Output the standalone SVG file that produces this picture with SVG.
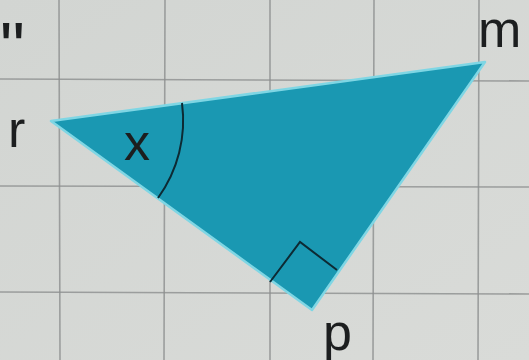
<svg xmlns="http://www.w3.org/2000/svg" width="529" height="360" viewBox="0 0 529 360">
<style>
.grid{stroke:#8c8f8e;stroke-width:1.6;fill:none;opacity:0.8}
.lbl{font-family:"Liberation Sans",Arial,sans-serif;fill:#1c1e1f}
.mark{stroke:#0d2a33;stroke-width:2;fill:none}
</style>
<defs>
<linearGradient id="paper" x1="0" y1="0" x2="1" y2="1">
<stop offset="0" stop-color="#d2d5d2"/>
<stop offset="1" stop-color="#d9dbd8"/>
</linearGradient>
</defs>
<rect width="529" height="360" fill="url(#paper)"/>
<g id="grid">
<path class="grid" d="M59 0 L60 360 M165 0 L164 360 M270 0 L270 360 M374 0 L373 360 M479 0 L478 360"/>
<path class="grid" d="M0 79 L529 81 M0 186 L529 187 M0 292 L529 294"/>
</g>
<g id="triangle">
<polygon points="51,121 485,62 312,310" fill="#1a98b2" stroke="#7fd6e4" stroke-width="2.5" stroke-linejoin="round"/>
<path class="mark" d="M182 103 A132 132 0 0 1 158 198"/>
<path class="mark" d="M270 282 L300 242 L337 270"/>
</g>
<g id="labels">
<text class="lbl" x="0" y="72" font-size="70">"</text>
<text class="lbl" x="8" y="147" font-size="52">r</text>
<text class="lbl" x="124" y="160" font-size="52">x</text>
<text class="lbl" x="478" y="47" font-size="52">m</text>
<text class="lbl" x="323" y="350" font-size="52">p</text>
</g>
</svg>
